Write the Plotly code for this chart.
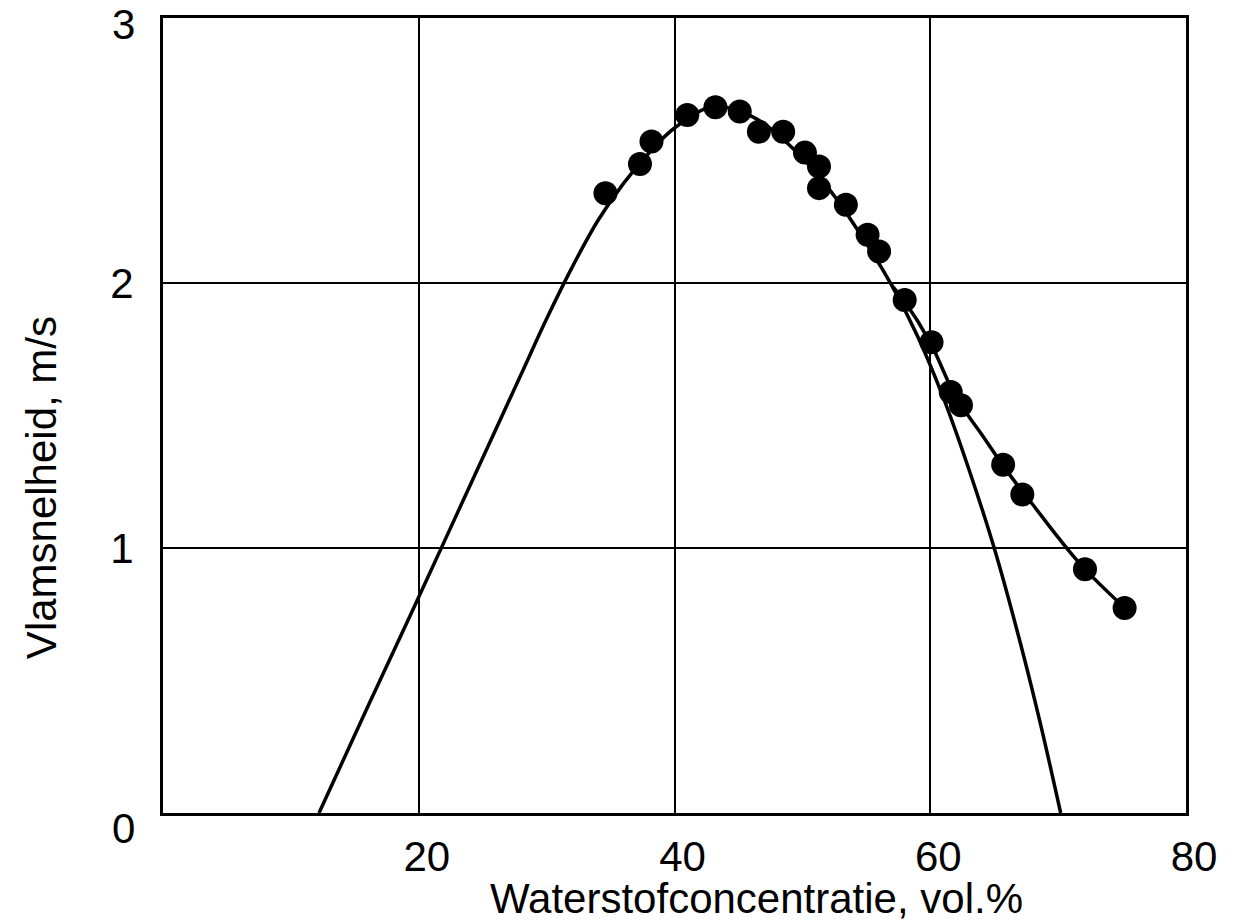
import plotly.graph_objects as go

# Measured flame speed points (hydrogen concentration vol.%, flame speed m/s)
conc = [34.6, 37.3, 38.2, 41.0, 43.2, 45.1, 46.6, 48.5, 50.2, 51.3, 51.3,
        53.4, 55.1, 56.0, 58.0, 60.1, 61.6, 62.4, 65.7, 67.2, 72.1, 75.2]
speed = [2.339, 2.449, 2.534, 2.634, 2.663, 2.647, 2.571, 2.571, 2.492, 2.440,
         2.358, 2.295, 2.182, 2.119, 1.936, 1.776, 1.589, 1.539, 1.314, 1.202,
         0.920, 0.774]

# Fitted curve (parabola-like)
fit1_x = [12.2, 16, 20, 24, 28, 30, 32, 34, 36, 38, 40, 43, 46, 49, 52, 55,
          57, 59, 61, 63, 65, 67, 68.6, 70.2]
fit1_y = [0, 0.40, 0.815, 1.235, 1.655, 1.865, 2.06, 2.235, 2.375, 2.49, 2.585,
          2.665, 2.63, 2.52, 2.36, 2.15, 1.99, 1.80, 1.57, 1.30, 1.0, 0.65,
          0.34, 0]

# Second curve through the rich-side points
fit2_x = [57, 58, 60, 62, 64, 66, 68, 70, 72, 75.2]
fit2_y = [1.99, 1.93, 1.775, 1.57, 1.43, 1.29, 1.165, 1.04, 0.925, 0.774]

x_ticks = [20, 40, 60, 80]
y_ticks = [1, 2]          # drawn by the axis
y_edge_ticks = [0, 3]     # edge labels, nudged off the frame as in the original

FONT = "Liberation Sans, Arial, sans-serif"

fig = go.Figure()
fig.add_trace(go.Scatter(x=fit1_x, y=fit1_y, mode="lines",
                         line=dict(color="black", width=3.5, shape="spline", smoothing=1.0),
                         hoverinfo="skip"))
fig.add_trace(go.Scatter(x=fit2_x, y=fit2_y, mode="lines",
                         line=dict(color="black", width=3.5, shape="spline", smoothing=1.0),
                         hoverinfo="skip"))
fig.add_trace(go.Scatter(x=conc, y=speed, mode="markers",
                         marker=dict(color="black", size=24, line=dict(width=0))))

edge_shift = {0: -15, 3: -6}
annotations = [
    dict(text=str(v), x=-0.039, xref="paper", y=v, yref="y", yshift=edge_shift[v],
         xanchor="center", yanchor="middle", showarrow=False,
         font=dict(family=FONT, size=42, color="black"))
    for v in y_edge_ticks
]
annotations += [
    dict(text="Waterstofconcentratie, vol.%", x=0.580, xref="paper",
         y=-0.108, yref="paper", xanchor="center", yanchor="middle",
         showarrow=False, font=dict(family=FONT, size=42, color="black")),
    dict(text="Vlamsnelheid, m/s", x=-0.118, xref="paper", y=0.409,
         yref="paper", xanchor="center", yanchor="middle", textangle=-90,
         showarrow=False, font=dict(family=FONT, size=42, color="black")),
]

fig.update_layout(
    width=1232, height=914,
    margin=dict(l=155, r=54, t=10, b=109, autoexpand=False),
    paper_bgcolor="white", plot_bgcolor="white",
    showlegend=False,
    font=dict(family=FONT, size=42, color="black"),
    xaxis=dict(range=[0, 80], tickvals=x_ticks, ticktext=[str(v) for v in x_ticks],
               showgrid=True, gridcolor="black", gridwidth=2,
               showline=True, linecolor="black", linewidth=3, mirror=True,
               zeroline=False, ticks="", ticklabelshift=8, ticklabelstandoff=5,
               ticklabeloverflow="allow", automargin=False,
               tickfont=dict(family=FONT, size=42, color="black")),
    yaxis=dict(range=[0, 3], tickvals=y_ticks, ticktext=[str(v) for v in y_ticks],
               showgrid=True, gridcolor="black", gridwidth=2,
               showline=True, linecolor="black", linewidth=3, mirror=True,
               zeroline=False, ticks="", ticklabelstandoff=18,
               ticklabeloverflow="allow", automargin=False,
               tickfont=dict(family=FONT, size=42, color="black")),
    annotations=annotations,
)

fig.write_html("out.html")
